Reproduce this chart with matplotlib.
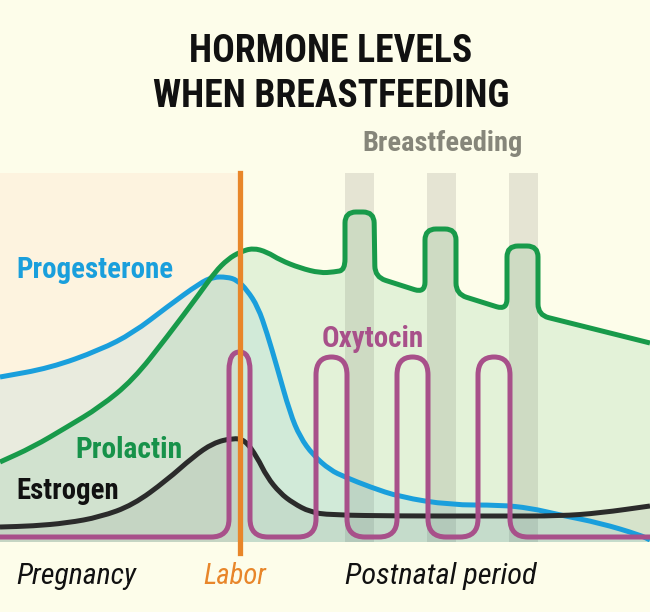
import numpy as np
import matplotlib
matplotlib.use('Agg')
import matplotlib.pyplot as plt
from matplotlib.path import Path
from matplotlib.patches import PathPatch
from matplotlib import font_manager as fm

# hormone levels (x = time, y = level above baseline)
prolactin_x = [0, 33, 67, 100, 133, 167, 200, 215, 228, 240, 253, 267, 280, 300, 320, 334,
               345, 345, 374, 375, 425, 425, 456, 456, 507, 507, 538, 538, 650]
prolactin_y = [80, 95, 115, 135, 162, 205, 249, 270, 283, 290, 294, 290, 282, 274, 269, 270,
               272, 330, 330, 265, 249, 313, 313, 248, 232, 296, 296, 227, 199]

progesterone_x = [0, 50, 100, 133, 167, 200, 213, 227, 237, 247, 258, 267, 277, 290, 300, 313,
                  330, 345, 370, 400, 450, 500, 530, 560, 600, 640, 650]
progesterone_y = [165, 174, 192, 209, 235, 259, 265, 265, 262, 252, 235, 209, 175, 129, 105, 87,
                  72, 65, 55, 45, 37, 37, 34, 27, 19, 7, 2]

estrogen_x = [0, 33, 67, 100, 133, 167, 193, 213, 233, 245, 257, 267, 280, 293, 310, 330,
              400, 500, 560, 600, 650]
estrogen_y = [15, 16, 19, 25, 37, 62, 85, 99, 104, 102, 85, 65, 49, 39, 30, 27,
              26, 26, 26, 29, 36]

oxytocin_x = [0, 229, 229, 250, 250, 316, 316, 347, 347, 397, 397, 428, 428, 478, 478, 510, 510, 650]
oxytocin_y = [5, 5, 190, 190, 5, 5, 185, 185, 5, 5, 185, 185, 5, 5, 185, 185, 5, 5]

feeding_spans = [(345, 374), (427, 456), (509, 538)]
labor_x = 239.5
t_end = 650
y_top = 369

bg = '#fdfdea'
c_green = '#189a4a'
c_blue = '#1a9fdc'
c_black = '#2b2b2b'
c_purple = '#a8508a'
c_orange = '#e8862a'

names = {f.name for f in fm.fontManager.ttflist}
cond = 'DejaVu Sans'
for cand in ['Liberation Sans Narrow', 'DejaVu Sans Condensed', 'Roboto Condensed', 'Open Sans Condensed']:
    if cand in names:
        cond = cand
        break


def rounded(xs, ys, r, closed=False):
    # polyline with rounded corners (quadratic curves at each vertex)
    pts = np.column_stack([xs, ys]).astype(float)
    rr = np.broadcast_to(np.asarray(r, dtype=float), (len(pts),))
    verts = [pts[0]]
    codes = [Path.MOVETO]
    for i in range(1, len(pts) - 1):
        a, p, b = pts[i - 1], pts[i], pts[i + 1]
        da = np.hypot(*(a - p))
        db = np.hypot(*(b - p))
        ra = min(rr[i], da / 2)
        rb = min(rr[i], db / 2)
        verts += [p + (a - p) * ra / da, p, p + (b - p) * rb / db]
        codes += [Path.LINETO, Path.CURVE3, Path.CURVE3]
    verts.append(pts[-1])
    codes.append(Path.LINETO)
    if closed:
        verts += [(pts[-1][0], 0), (pts[0][0], 0), pts[0]]
        codes += [Path.LINETO, Path.LINETO, Path.CLOSEPOLY]
    return Path(verts, codes)


W, H = 650, 612
fig = plt.figure(figsize=(6.5, 6.12), dpi=100, facecolor=bg)
ax = fig.add_axes([0, 70 / H, 1, y_top / H])
ax.set_xlim(0, t_end)
ax.set_ylim(0, y_top)
ax.axis('off')

ax.axvspan(0, labor_x, color='#fdf3df', lw=0, zorder=0)
for a, b in feeding_spans:
    ax.axvspan(a, b, color='#e5e4d3', lw=0, zorder=0)

green_r = [30] * 16 + [11] * 12 + [30]
curves = [
    (prolactin_x, prolactin_y, c_green, 0.11, green_r, 4),
    (progesterone_x, progesterone_y, c_blue, 0.085, 40, 2),
    (estrogen_x, estrogen_y, c_black, 0.07, 40, 3),
]
for xs, ys, col, al, r, z in curves:
    ax.add_patch(PathPatch(rounded(xs, ys, r, closed=True), facecolor=col, alpha=al, lw=0, zorder=1))
    ax.add_patch(PathPatch(rounded(xs, ys, r), fill=False, edgecolor=col, lw=3.6,
                           capstyle='butt', joinstyle='round', zorder=z))

ax.add_patch(PathPatch(rounded(oxytocin_x, oxytocin_y, 18), fill=False, edgecolor=c_purple,
                       lw=3.6, joinstyle='round', zorder=5))
ax.axvline(labor_x, ymin=-11 / y_top, ymax=1, color=c_orange, lw=3.8, clip_on=False, zorder=6)

rend = fig.canvas.get_renderer()


def put(x, y, s, width, **kw):
    t = fig.text(x / W, 1 - y / H, s, va='baseline', family=cond, **kw)
    w = t.get_window_extent(rend).width
    t.set_fontsize(t.get_fontsize() * width / w)
    return t


t2 = put(331, 107, 'WHEN BREASTFEEDING', 353, ha='center', weight='bold', color='#111111')
fig.text(331 / W, 1 - 62 / H, 'HORMONE LEVELS', va='baseline', ha='center', family=cond,
         weight='bold', color='#111111', fontsize=t2.get_fontsize())

put(362, 151, 'Breastfeeding', 160, ha='left', weight='bold', color='#86867a')
put(16, 278, 'Progesterone', 157, ha='left', weight='bold', color=c_blue)
put(322, 347, 'Oxytocin', 102, ha='left', weight='bold', color=c_purple)
put(75, 458, 'Prolactin', 107, ha='left', weight='bold', color='#17924a')
put(16, 499, 'Estrogen', 102, ha='left', weight='bold', color='#111111')

put(16, 584, 'Pregnancy', 120, ha='left', style='italic', color='#111111')
put(203, 584, 'Labor', 63, ha='left', style='italic', color=c_orange)
put(345, 584, 'Postnatal period', 192, ha='left', style='italic', color='#111111')

fig.savefig('out.png', dpi=100, facecolor=bg)
